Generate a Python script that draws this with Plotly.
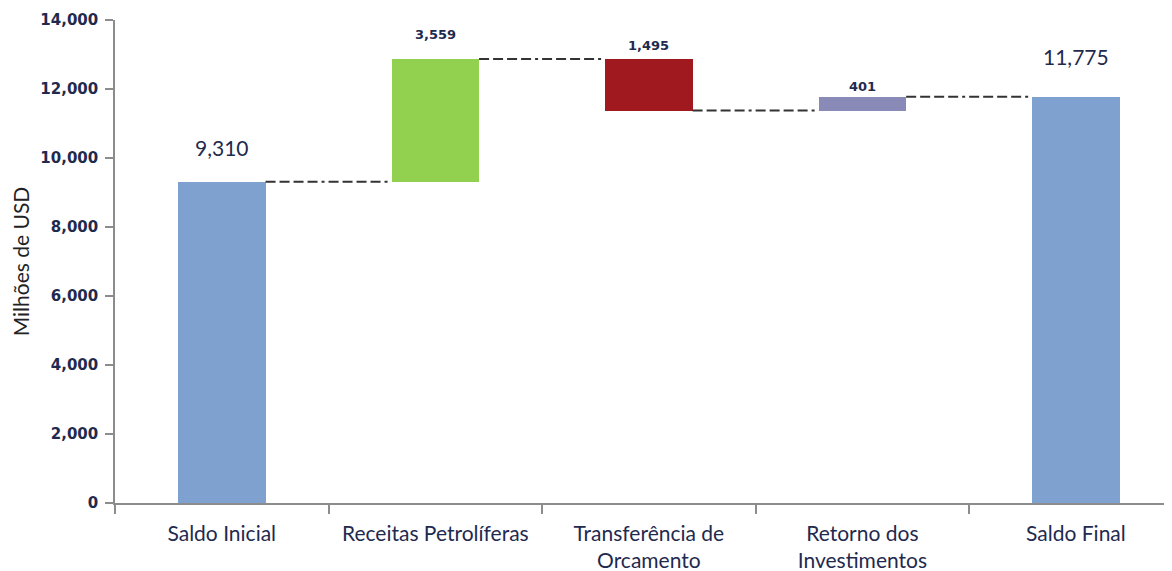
import plotly.graph_objects as go

categories = ["Saldo Inicial", "Receitas Petrolíferas", "Transferência de<br>Orcamento",
              "Retorno dos<br>Investimentos", "Saldo Final"]
kinds = ["total", "delta", "delta", "delta", "total"]
values = [9310, 3559, -1495, 401, 11775]
label_texts = ["9,310", "3,559", "1,495", "401", "11,775"]
bar_colors = ["#7EA1CF", "#92D050", "#A0191E", "#8A8AB8", "#7EA1CF"]
y_ticks = [0, 2000, 4000, 6000, 8000, 10000, 12000, 14000]

BAR_W = 0.41
text_color = "#1F2A4F"

# compute bases / heights
bases, heights, tops, levels = [], [], [], []
running = 0
for k, v in zip(kinds, values):
    if k == "total":
        b, h = 0, v
        running = v
    else:
        start = running
        running = running + v
        b, h = min(start, running), abs(v)
    bases.append(b)
    heights.append(h)
    tops.append(b + h)
    levels.append(running)

xs = list(range(len(categories)))
fig = go.Figure()
fig.add_trace(go.Bar(x=xs, y=heights, base=bases, width=BAR_W,
                     marker=dict(color=bar_colors, line=dict(width=0)),
                     hoverinfo="skip", showlegend=False))

# connectors
for i in range(len(xs) - 1):
    fig.add_trace(go.Scatter(x=[xs[i] + BAR_W / 2, xs[i + 1] - BAR_W / 2],
                             y=[levels[i], levels[i]], mode="lines",
                             line=dict(color="#333333", width=2,
                                       dash="10px,4px,10px,4px,10px,4px,10px,4px,3px,4px"),
                             hoverinfo="skip", showlegend=False))

# labels
label_big = [True, False, False, False, True]
label_shift = [34, 25, 14, 10, 40]
for i in range(len(xs)):
    if label_big[i]:
        font = dict(size=21, color=text_color, family="Lato")
    else:
        font = dict(size=13, color=text_color, family="DejaVu Sans", weight="bold")
    fig.add_annotation(x=xs[i], y=tops[i], text=label_texts[i], showarrow=False,
                       yanchor="middle", yshift=label_shift[i], font=font)

fig.update_layout(
    width=1164, height=563,
    margin=dict(l=107, r=0, t=12, b=68),
    plot_bgcolor="white", paper_bgcolor="white",
    bargap=0,
    font=dict(family="Lato", color=text_color),
    xaxis=dict(range=[-0.5, 4.45], tickmode="array", tickvals=xs, ticktext=categories,
               ticks="outside", ticklen=11, tickcolor="rgba(0,0,0,0)",
               tickfont=dict(size=21, color=text_color, family="Lato"),
               showline=True, linecolor="#8C8C8C", linewidth=1.5,
               showgrid=False, zeroline=False, automargin=False,
               minor=dict(tickmode="linear", tick0=-0.5, dtick=1, ticks="outside",
                          ticklen=9, tickcolor="#8C8C8C", tickwidth=1.5, showgrid=False)),
    yaxis=dict(range=[0, 14000], tickmode="array", tickvals=y_ticks,
               tickformat=",d", ticks="outside", ticklen=8, tickcolor="#8C8C8C",
               tickwidth=1.5, showline=True, linecolor="#8C8C8C", linewidth=1.5,
               showgrid=False, zeroline=False, automargin=False,
               ticklabelstandoff=4,
               tickfont=dict(size=15, family="DejaVu Sans", color=text_color, weight="bold"),
               title=dict(text="Milhões de USD",
                          font=dict(size=21, color="#222222", family="Lato"),
                          standoff=22)),
)

fig.write_html("out.html")
